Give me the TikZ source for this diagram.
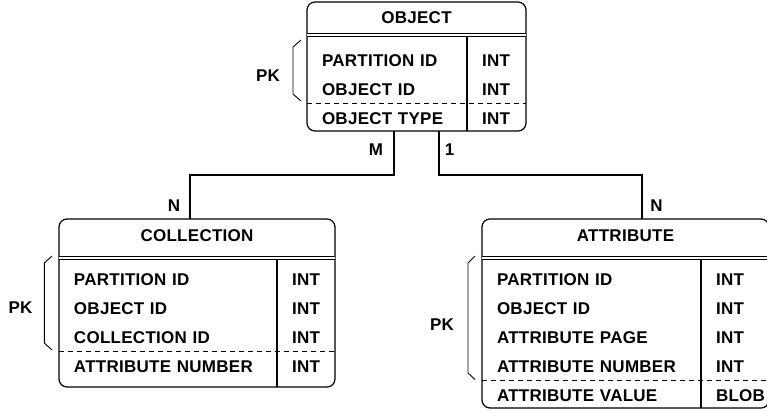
\documentclass[tikz,border=0pt]{standalone}
\usepackage{fontspec}
\setmainfont{Liberation Sans}[LetterSpace=1.6]
\usetikzlibrary{positioning,chains,scopes}
\tikzset{
    table box/.style = {
        draw,
        line width=1.2bp,
        rounded corners=8bp,
        inner sep=0pt,
        outer sep=0pt,
        },
    table title/.style = {
        inner sep=0pt,
        text height=12.2bp,
        text depth=0pt,
        },
    head line/.style = {
        double,
        double distance=2bp,
        line width=1bp,
        },
    rule line/.style = {
        line width=1.2bp,
        },
    key line/.style = {
        line width=1bp,
        dash pattern=on 5bp off 4bp,
        },
    field name/.style = {
        inner xsep=15bp,
        inner ysep=0pt,
        outer sep=0pt,
        minimum height=29bp,
        text height=12.2bp,
        text depth=0pt,
        align=left,
        },
    field type/.style = {
        inner xsep=15bp,
        inner ysep=0pt,
        outer sep=0pt,
        minimum height=29bp,
        text height=12.2bp,
        text depth=0pt,
        },
    link/.style = {
        line width=1.2bp,
        },
    card/.style = {
        inner sep=0pt,
        },
    pk brace/.style = {
        line width=0.9bp,
        },
}
\begin{document}
\begin{tikzpicture}
            [
                x=1bp, y=-1bp,
                node distance = 0pt,
                font=\fontsize{17bp}{20bp}\selectfont\bfseries,
                FieldName/.style={field name, on chain},
            ]

            \useasboundingbox (0,0) rectangle (767,410);
            \clip (0,0) rectangle (767,410);

            % OBJECT
            \node [table box, minimum width=219bp, minimum height=129bp] (object) at (416.5,66.5) {};
            \node [table title] (objecttitle) at (object.north |- 0,17.5) {OBJECT};
            \draw [head line] (object.west |- 0,34.7) -- (object.east |- 0,34.7);

            { [start chain = going below]
            \node [FieldName, text width=130bp] (opid) at (387,60) {PARTITION ID};
            \node [FieldName, text width=130bp] (ooid) {OBJECT ID};
            \node [FieldName, text width=130bp] (otype) {OBJECT TYPE};
            }
            \node [field type, right=of opid] (opidt) {INT};
            \node [field type, right=of ooid] (ooidt) {INT};
            \node [field type, right=of otype] (otypet) {INT};

            \draw [rule line] (opid.east |- 0,36.2) -- (opid.east |- object.south);
            \draw [key line] (object.west |- ooid.south) -- (object.east |- ooid.south);

            \draw [pk brace] (301,40) -- (293,47) -- (293,94) -- (301,101);
            \node [card] (objectpk) at (268,76) {PK};

            % COLLECTION
            \node [table box, minimum width=276bp, minimum height=168bp] (collection) at (197,303) {};
            \node [table title] (collectiontitle) at (collection.north |- 0,235) {COLLECTION};
            \draw [head line] (collection.west |- 0,257.5) -- (collection.east |- 0,257.5);

            { [start chain = going below]
            \node [FieldName, text width=188bp] (cpid) at (168,279) {PARTITION ID};
            \node [FieldName, text width=188bp] (coid) {OBJECT ID};
            \node [FieldName, text width=188bp] (ccid) {COLLECTION ID};
            \node [FieldName, text width=188bp] (canum) {ATTRIBUTE NUMBER};
            }
            \node [field type, right=of cpid] (cpidt) {INT};
            \node [field type, right=of coid] (coidt) {INT};
            \node [field type, right=of ccid] (ccidt) {INT};
            \node [field type, right=of canum] (canumt) {INT};

            \draw [rule line] (cpid.east |- 0,259) -- (cpid.east |- collection.south);
            \draw [key line] (collection.west |- ccid.south) -- (collection.east |- ccid.south);

            \draw [pk brace] (52,256) -- (44.3,263) -- (44.3,343) -- (52,350);
            \node [card] (collectionpk) at (20.5,308) {PK};

            % ATTRIBUTE
            \node [table box, minimum width=287bp, minimum height=189bp] (attribute) at (625.5,313.5) {};
            \node [table title] (attributetitle) at (attribute.north |- 0,235) {ATTRIBUTE};
            \draw [head line] (attribute.west |- 0,257.5) -- (attribute.east |- 0,257.5);

            { [start chain = going below]
            \node [FieldName, text width=189bp] (apid) at (591.5,279) {PARTITION ID};
            \node [FieldName, text width=189bp] (aoid) {OBJECT ID};
            \node [FieldName, text width=189bp] (apage) {ATTRIBUTE PAGE};
            \node [FieldName, text width=189bp] (anum) {ATTRIBUTE NUMBER};
            \node [FieldName, text width=189bp] (aval) {ATTRIBUTE VALUE};
            }
            \node [field type, right=of apid] (apidt) {INT};
            \node [field type, right=of aoid] (aoidt) {INT};
            \node [field type, right=of apage] (apaget) {INT};
            \node [field type, right=of anum] (anumt) {INT};
            \node [field type, right=of aval] (avalt) {BLOB};

            \draw [rule line] (apid.east |- 0,259) -- (apid.east |- attribute.south);
            \draw [key line] (attribute.west |- anum.south) -- (attribute.east |- anum.south);

            \draw [pk brace] (475,256) -- (468,263) -- (468,373) -- (475,379.5);
            \node [card] (attributepk) at (442,325) {PK};

            % relations
            \draw [link] ([xshift=-22.5bp]object.south) -- ++(0,44) -| ([xshift=-7bp]collection.north);
            \draw [link] ([xshift=22.5bp]object.south) -- ++(0,44) -| ([xshift=16.5bp]attribute.north);

            \node [card] (cardm) at (376,150) {M};
            \node [card] (cardone) at (449.5,150) {1};
            \node [card] (cardcn) at (174,205.5) {N};
            \node [card] (cardan) at (656.5,205.5) {N};
\end{tikzpicture}
\end{document}
